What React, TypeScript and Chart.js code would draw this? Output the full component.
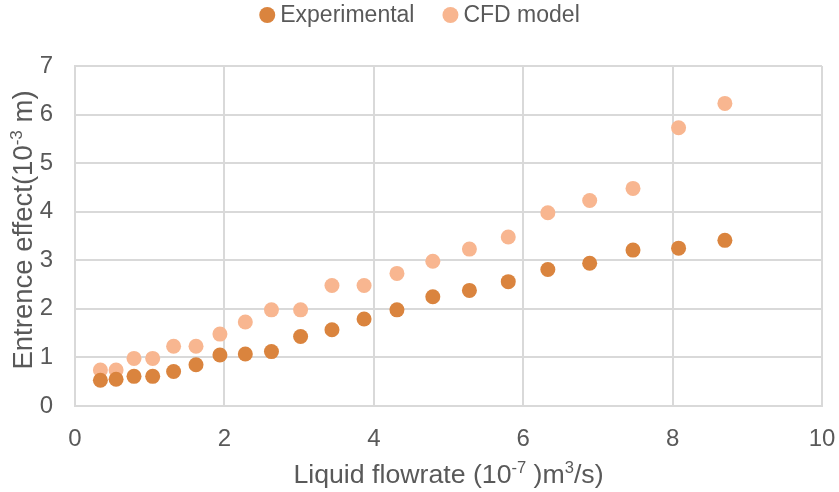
import React, { useEffect, useRef } from "react";
import { Chart, registerables } from "chart.js";

Chart.register(...registerables);

// ---- data ----
const flowrate = [0.34, 0.55, 0.79, 1.04, 1.32, 1.62, 1.94, 2.28, 2.63, 3.02, 3.44, 3.87, 4.31, 4.79, 5.28, 5.8, 6.33, 6.89, 7.47, 8.08, 8.7];
const experimental = [0.53, 0.55, 0.61, 0.61, 0.71, 0.85, 1.05, 1.07, 1.12, 1.43, 1.57, 1.79, 1.98, 2.25, 2.38, 2.56, 2.81, 2.94, 3.21, 3.25, 3.41];
const cfdModel = [0.74, 0.74, 0.98, 0.98, 1.23, 1.23, 1.48, 1.73, 1.98, 1.98, 2.48, 2.48, 2.73, 2.98, 3.23, 3.48, 3.98, 4.23, 4.48, 5.73, 6.23];
const seriesNames = ["Experimental", "CFD model"];
const seriesColors = ["#DA843E", "#F8B690"];
const xRange = [0, 10];
const yRange = [0, 7];
const xStep = 2;
const yStep = 1;
// title parts: [text, isSuperscript]
const xTitleParts: [string, boolean][] = [["Liquid flowrate (10", false], ["-7", true], [" )m", false], ["3", true], ["/s)", false]];
const yTitleParts: [string, boolean][] = [["Entrence effect(10", false], ["-3", true], [" m)", false]];

const FONT = '"Liberation Sans", Arial, sans-serif';
const TEXT_COLOR = "#595959";
const GRID_COLOR = "#D9D9D9";

function drawRich(ctx: CanvasRenderingContext2D, parts: [string, boolean][], cx: number, baseline: number, size: number) {
  const supSize = size * 0.62;
  const widths = parts.map(([t, sup]) => {
    ctx.font = `${sup ? supSize : size}px ${FONT}`;
    return ctx.measureText(t).width;
  });
  const total = widths.reduce((a, b) => a + b, 0);
  let x = cx - total / 2;
  ctx.textAlign = "left";
  ctx.textBaseline = "alphabetic";
  parts.forEach(([t, sup], i) => {
    ctx.font = `${sup ? supSize : size}px ${FONT}`;
    ctx.fillText(t, x, sup ? baseline - size * 0.36 : baseline);
    x += widths[i];
  });
}

const decorPlugin = {
  id: "decor",
  afterDraw(chart: any) {
    const ctx: CanvasRenderingContext2D = chart.ctx;
    const area = chart.chartArea;
    ctx.save();
    ctx.fillStyle = TEXT_COLOR;
    // x title
    drawRich(ctx, xTitleParts, (area.left + area.right) / 2, 483, 26.7);
    // y title
    ctx.save();
    ctx.translate(32, (area.top + area.bottom) / 2 - 6);
    ctx.rotate(-Math.PI / 2);
    drawRich(ctx, yTitleParts, 0, 0, 27.5);
    ctx.restore();
    // legend
    const size = 23;
    const r = 8;
    const gapText = 5;
    const gapItem = 28;
    ctx.font = `${size}px ${FONT}`;
    const tw = seriesNames.map((n) => ctx.measureText(n).width);
    let total = 0;
    tw.forEach((w, i) => {
      total += 2 * r + gapText + w + (i < tw.length - 1 ? gapItem : 0);
    });
    let x = (chart.width - total) / 2;
    const cy = 15;
    ctx.textAlign = "left";
    ctx.textBaseline = "middle";
    seriesNames.forEach((n, i) => {
      ctx.fillStyle = seriesColors[i];
      ctx.beginPath();
      ctx.arc(x + r, cy, r, 0, Math.PI * 2);
      ctx.fill();
      ctx.fillStyle = TEXT_COLOR;
      ctx.fillText(n, x + 2 * r + gapText, cy + 1);
      x += 2 * r + gapText + tw[i] + gapItem;
    });
    ctx.restore();
  },
};

export default function App() {
  const ref = useRef<HTMLCanvasElement | null>(null);
  useEffect(() => {
    document.body.style.margin = "0";
    if (!ref.current) return;
    const series = [experimental, cfdModel];
    const chart = new Chart(ref.current, {
      type: "scatter",
      data: {
        datasets: series.map((vals, i) => ({
          label: seriesNames[i],
          data: flowrate.map((x, j) => ({ x, y: vals[j] })),
          backgroundColor: seriesColors[i],
          borderColor: seriesColors[i],
          borderWidth: 0,
          pointRadius: 7.5,
          pointHoverRadius: 7.5,
        })),
      },
      options: {
        animation: false,
        responsive: false,
        devicePixelRatio: 1,
        layout: { padding: { top: 66, right: 17, left: 0, bottom: 0 } },
        plugins: { legend: { display: false }, tooltip: { enabled: false }, title: { display: false } },
        scales: {
          x: {
            type: "linear",
            min: xRange[0],
            max: xRange[1],
            ticks: { stepSize: xStep, color: TEXT_COLOR, font: { size: 24, family: FONT }, padding: 19 },
            grid: { color: GRID_COLOR, lineWidth: 2, drawTicks: false },
            border: { color: GRID_COLOR, width: 2 },
            afterFit: (s: any) => {
              s.height = 86;
              s.paddingLeft = 0;
              s.paddingRight = 0;
            },
          },
          y: {
            type: "linear",
            min: yRange[0],
            max: yRange[1],
            ticks: { stepSize: yStep, color: TEXT_COLOR, font: { size: 24, family: FONT }, padding: 22 },
            grid: { color: GRID_COLOR, lineWidth: 2, drawTicks: false },
            border: { color: GRID_COLOR, width: 2 },
            afterFit: (s: any) => {
              s.width = 75;
              s.paddingTop = 0;
              s.paddingBottom = 0;
            },
          },
        },
      },
      plugins: [decorPlugin],
    } as any);
    return () => chart.destroy();
  }, []);
  return <canvas ref={ref} width={839} height={492} style={{ display: "block", width: 839, height: 492 }} />;
}
